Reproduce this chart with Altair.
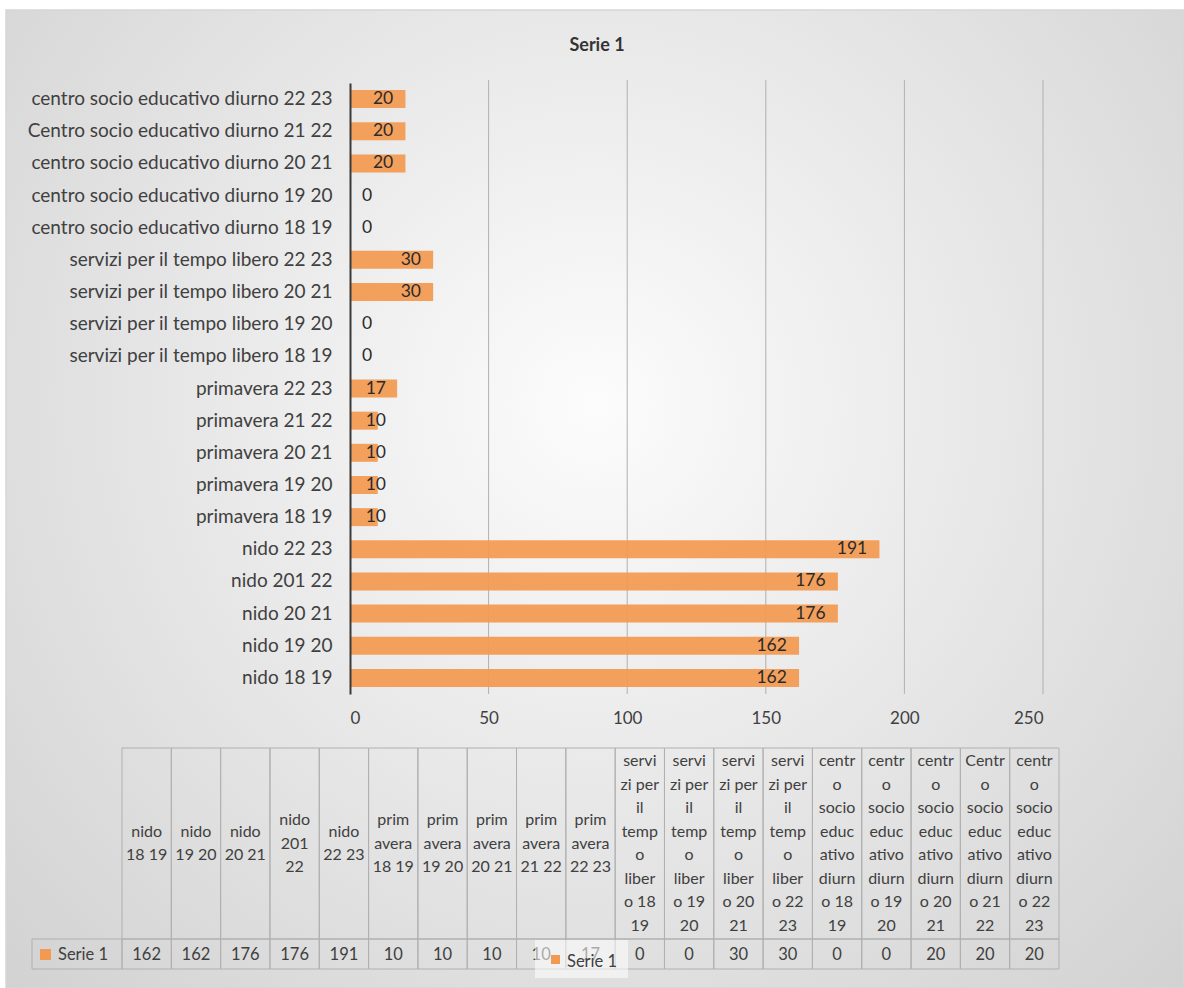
import altair as alt
import pandas as pd

# ---- data -------------------------------------------------------------
categories = [
    "nido 18 19", "nido 19 20", "nido 20 21", "nido 201 22", "nido 22 23",
    "primavera 18 19", "primavera 19 20", "primavera 20 21", "primavera 21 22", "primavera 22 23",
    "servizi per il tempo libero 18 19", "servizi per il tempo libero 19 20",
    "servizi per il tempo libero 20 21", "servizi per il tempo libero 22 23",
    "centro socio educativo diurno 18 19", "centro socio educativo diurno 19 20",
    "centro socio educativo diurno 20 21", "Centro socio educativo diurno 21 22",
    "centro socio educativo diurno 22 23",
]
values = [162, 162, 176, 176, 191, 10, 10, 10, 10, 17, 0, 0, 30, 30, 0, 0, 20, 20, 20]

# column headings of the data table, wrapped the way the cells wrap them
table_headers = [
    "nido\n18 19", "nido\n19 20", "nido\n20 21", "nido\n201\n22", "nido\n22 23",
    "prim\navera\n18 19", "prim\navera\n19 20", "prim\navera\n20 21", "prim\navera\n21 22", "prim\navera\n22 23",
    "servi\nzi per\nil\ntemp\no\nliber\no 18\n19", "servi\nzi per\nil\ntemp\no\nliber\no 19\n20",
    "servi\nzi per\nil\ntemp\no\nliber\no 20\n21", "servi\nzi per\nil\ntemp\no\nliber\no 22\n23",
    "centr\no\nsocio\neduc\nativo\ndiurn\no 18\n19", "centr\no\nsocio\neduc\nativo\ndiurn\no 19\n20",
    "centr\no\nsocio\neduc\nativo\ndiurn\no 20\n21", "Centr\no\nsocio\neduc\nativo\ndiurn\no 21\n22",
    "centr\no\nsocio\neduc\nativo\ndiurn\no 22\n23",
]
series_name = "Serie 1"
x_ticks = [0, 50, 100, 150, 200, 250]

# ---- styling ----------------------------------------------------------
FONT = "Lato"
TXT = "#404040"
BAR = "#f39a52"
GRID = "#b0b0b0"
TABLE_LINE = "#b0b0b0"
W, H = 693, 611
LINE_H = 23.5          # line height of the wrapped table headings
HEAD_MID = 760.5       # vertical middle of the heading row, from the plot top

df = pd.DataFrame({"cat": categories, "v": values, "header": table_headers})
ticks_df = pd.DataFrame({"t": x_ticks[1:]})
one = pd.DataFrame({"name": [series_name]})

# ---- background panel with a soft radial shading -----------------------
background = alt.Chart(one).mark_rect(
    fill=alt.Gradient(
        gradient="radial",
        stops=[alt.GradientStop(offset=0, color="#fcfcfc"),
               alt.GradientStop(offset=1, color="#cfcfcf")],
        x1=0.5, y1=0.42, r1=0, x2=0.5, y2=0.42, r2=0.75,
    ),
    stroke="#d6d6d6", strokeWidth=1.5,
).encode(x=alt.value(-344), x2=alt.value(834), y=alt.value(-73), y2=alt.value(905))

title = alt.Chart(one).mark_text(
    font=FONT, fontSize=18, fontWeight="bold", color="#333333", align="center", baseline="middle"
).encode(x=alt.value(247), y=alt.value(-37), text="name:N")

# ---- horizontal bar chart ---------------------------------------------
x_scale = alt.Scale(domain=[0, 250], nice=False, zero=True)
y_scale = alt.Scale(type="band", paddingInner=0.44, paddingOuter=0.22)
x_axis = alt.Axis(values=x_ticks, title=None, ticks=False, domain=False, grid=False,
                  labelPadding=16, labelFont=FONT, labelFontSize=17, labelColor=TXT, zindex=1)
y_axis = alt.Axis(title=None, ticks=False, labelPadding=18, labelFont=FONT, labelFontSize=19,
                  labelColor=TXT, domainColor="#3a3a3a", domainWidth=2, grid=False,
                  labelLimit=0, zindex=1)

# vertical gridlines, drawn under the bars
gridlines = alt.Chart(ticks_df).mark_rule(color=GRID, strokeWidth=1).encode(
    x=alt.X("t:Q", scale=x_scale, axis=None), y=alt.value(-3), y2=alt.value(H))

bars = alt.Chart(df).mark_bar(color=BAR, opacity=0.93).encode(
    x=alt.X("v:Q", scale=x_scale, axis=x_axis),
    y=alt.Y("cat:N", sort=categories[::-1], scale=y_scale, axis=y_axis),
)
bar_labels = alt.Chart(df).transform_calculate(
    lx="max(datum.v - 4.4, 3 + 5 * length(toString(datum.v)))"
).mark_text(font=FONT, fontSize=17.5, color="#2b2b2b", align="right", baseline="middle").encode(
    x=alt.X("lx:Q", scale=x_scale, axis=None),
    y=alt.Y("cat:N", sort=categories[::-1], scale=y_scale, axis=None),
    text="v:Q",
)

# ---- data table under the chart ---------------------------------------
tx = alt.X("cat:N", sort=categories, axis=None,
           scale=alt.Scale(type="band", domain=categories, range=[-228, 709],
                           paddingInner=0, paddingOuter=0))

head_cells = alt.Chart(df).mark_rect(fill="transparent", stroke=TABLE_LINE, strokeWidth=1).encode(
    x=tx, y=alt.value(665), y2=alt.value(856))
val_cells = alt.Chart(df).mark_rect(fill="transparent", stroke=TABLE_LINE, strokeWidth=1).encode(
    x=tx, y=alt.value(856), y2=alt.value(886))
# wrapped headings: the first line moves up by half a line per extra line,
# so every heading block is centred in its cell
head_text = alt.Chart(df).transform_calculate(
    nl="length(split(datum.header, '\\n'))"
).mark_text(
    font=FONT, fontSize=16, color=TXT, lineBreak="\n", lineHeight=LINE_H, baseline="middle"
).encode(
    x=tx,
    y=alt.Y("nl:Q", axis=None,
            scale=alt.Scale(domain=[1, 8], range=[HEAD_MID, HEAD_MID - 7 * LINE_H / 2])),
    text="header:N",
)
val_text = alt.Chart(df).mark_text(font=FONT, fontSize=16.5, color=TXT, baseline="middle").encode(
    x=tx, y=alt.value(872), text="v:Q")

row_cell = alt.Chart(one).mark_rect(fill="transparent", stroke=TABLE_LINE, strokeWidth=1).encode(
    x=alt.value(-318), x2=alt.value(-228), y=alt.value(856), y2=alt.value(886))
row_key = alt.Chart(one).mark_rect(color=BAR).encode(
    x=alt.value(-310), x2=alt.value(-299), y=alt.value(866), y2=alt.value(877))
row_name = alt.Chart(one).mark_text(font=FONT, fontSize=16.5, color=TXT, align="left", baseline="middle").encode(
    x=alt.value(-292), y=alt.value(872), text="name:N")

# ---- legend box --------------------------------------------------------
legend_box = alt.Chart(one).mark_rect(fill="white", fillOpacity=0.55).encode(
    x=alt.value(185), x2=alt.value(278), y=alt.value(857), y2=alt.value(895))
legend_key = alt.Chart(one).mark_rect(color=BAR).encode(
    x=alt.value(201), x2=alt.value(210), y=alt.value(872), y2=alt.value(881))
legend_text = alt.Chart(one).mark_text(font=FONT, fontSize=16.5, color=TXT, align="left", baseline="middle").encode(
    x=alt.value(217), y=alt.value(879), text="name:N")

chart = alt.layer(
    background, title, gridlines, bars, bar_labels,
    head_cells, val_cells, head_text, val_text, row_cell, row_key, row_name,
    legend_box, legend_key, legend_text,
).resolve_scale(
    x="independent", y="independent"
).properties(
    width=W, height=H,
    autosize=alt.AutoSizeParams(type="none"),
    padding={"left": 350, "top": 83, "right": 141, "bottom": 294},
    background="white",
).configure_view(stroke="transparent")

chart.save("out.html", embed_options={"renderer": "svg", "actions": False})
